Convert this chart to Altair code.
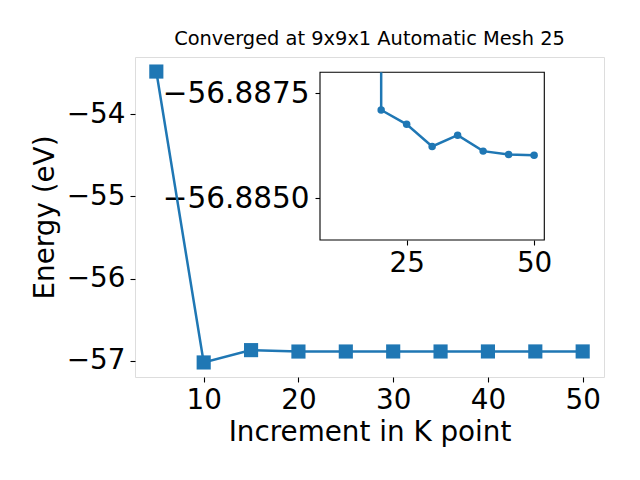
import altair as alt
import pandas as pd

# ---- data ----
kpoints = [5, 10, 15, 20, 25, 30, 35, 40, 45, 50]
energy = [-53.48, -57.02, -56.87, -56.88710, -56.88676, -56.88623,
          -56.88650, -56.88612, -56.88604, -56.88602]

inset_k = [20, 25, 30, 35, 40, 45, 50]
inset_energy = [-56.88710, -56.88676, -56.88623, -56.88650,
                -56.88612, -56.88604, -56.88602]

main_xlim = [2.75, 52.25]
main_ylim = [-57.197, -53.303]
main_xticks = [10, 20, 30, 40, 50]
main_yticks = [-57, -56, -55, -54]

inset_xlim = [8, 52]
inset_ylim = [-56.8880, -56.8840]
inset_xticks = [25, 50]
inset_yticks = [-56.8875, -56.8850]

title_text = "Converged at 9x9x1 Automatic Mesh 25"
xlabel = "Increment in K point"
ylabel = "Energy (eV)"

# ---- styling ----
FONT = "DejaVu Sans"
BLUE = "#1f77b4"
FS = 27.8
W, H = 469, 320
inset_xrange = [185, 409.3]
inset_yrange = [15.3, 183]

main_df = pd.DataFrame({"k": kpoints, "E": energy})
inset_df = pd.DataFrame({"k": inset_k, "E": inset_energy})
frame_df = pd.DataFrame({"x0": [inset_xlim[0]], "x1": [inset_xlim[1]],
                         "y0": [inset_ylim[0]], "y1": [inset_ylim[1]]})
seg_df = pd.DataFrame({"k": [inset_k[0]], "E": [inset_energy[0]],
                       "top": [inset_ylim[0]]})

common_axis = dict(labelFont=FONT, labelColor="black",
                   tickColor="black", tickWidth=1.1, tickSize=5,
                   grid=False, domain=False)

mx = alt.X("k:Q", scale=alt.Scale(domain=main_xlim, nice=False, zero=False),
           axis=alt.Axis(values=main_xticks, format="d", title=xlabel,
                         titleFont=FONT, titleFontSize=FS, titleFontWeight="normal",
                         titleColor="black", titleBaseline="alphabetic", titleY=63,
                         labelPadding=4, labelFontSize=FS, **common_axis))
my = alt.Y("E:Q", scale=alt.Scale(domain=main_ylim, nice=False, zero=False),
           axis=alt.Axis(values=main_yticks, format="d", title=ylabel,
                         titleFont=FONT, titleFontSize=FS, titleFontWeight="normal",
                         titleColor="black", titleBaseline="alphabetic",
                         titleAngle=-90, titleAlign="center", titleX=-82, titleY=H / 2,
                         labelPadding=5, labelFontSize=FS, **common_axis))

main_line = alt.Chart(main_df).mark_line(color=BLUE, strokeWidth=2.5).encode(x=mx, y=my)
main_pts = alt.Chart(main_df).mark_square(color=BLUE, size=200, opacity=1).encode(x=mx, y=my)
main_layer = alt.layer(main_line, main_pts)

isx = alt.Scale(domain=inset_xlim, range=inset_xrange, nice=False, zero=False)
isy = alt.Scale(domain=inset_ylim, range=inset_yrange, nice=False, zero=False)
ix_axis = alt.Axis(values=inset_xticks, format="d", title=None, orient="bottom",
                   offset=-(H - inset_yrange[1]), labelPadding=4, labelFontSize=FS,
                   **common_axis)
iy_axis = alt.Axis(values=inset_yticks, format=".4f", title=None, orient="left",
                   offset=-inset_xrange[0], labelPadding=6, labelFontSize=29.5,
                   **common_axis)

frame = alt.Chart(frame_df).mark_rect(fill="white", stroke="black", strokeWidth=1.1).encode(
    x=alt.X("x0:Q", scale=isx, axis=ix_axis), x2="x1:Q",
    y=alt.Y("y0:Q", scale=isy, axis=iy_axis), y2="y1:Q")
seg = alt.Chart(seg_df).mark_rule(color=BLUE, strokeWidth=2.5).encode(
    x=alt.X("k:Q", scale=isx, axis=ix_axis),
    y=alt.Y("E:Q", scale=isy, axis=iy_axis), y2="top:Q")
iline = alt.Chart(inset_df).mark_line(color=BLUE, strokeWidth=2.5).encode(
    x=alt.X("k:Q", scale=isx, axis=ix_axis), y=alt.Y("E:Q", scale=isy, axis=iy_axis))
ipts = alt.Chart(inset_df).mark_circle(color=BLUE, size=56, opacity=1).encode(
    x=alt.X("k:Q", scale=isx, axis=ix_axis), y=alt.Y("E:Q", scale=isy, axis=iy_axis))
inset_layer = alt.layer(frame, seg, iline, ipts)

chart = alt.layer(main_layer, inset_layer).resolve_scale(
    x="independent", y="independent"
).properties(
    width=W, height=H,
    title=alt.TitleParams(text=title_text, font=FONT, fontSize=19.4, fontWeight="normal",
                          color="black", anchor="middle", baseline="alphabetic", offset=-7),
    padding={"left": 127, "top": 49, "right": 20, "bottom": 80},
    autosize=alt.AutoSizeParams(type="none"),
).configure_view(stroke="black", strokeWidth=1.1).configure(background="white")

chart.save("out.html", embed_options={"renderer": "svg", "actions": False})
